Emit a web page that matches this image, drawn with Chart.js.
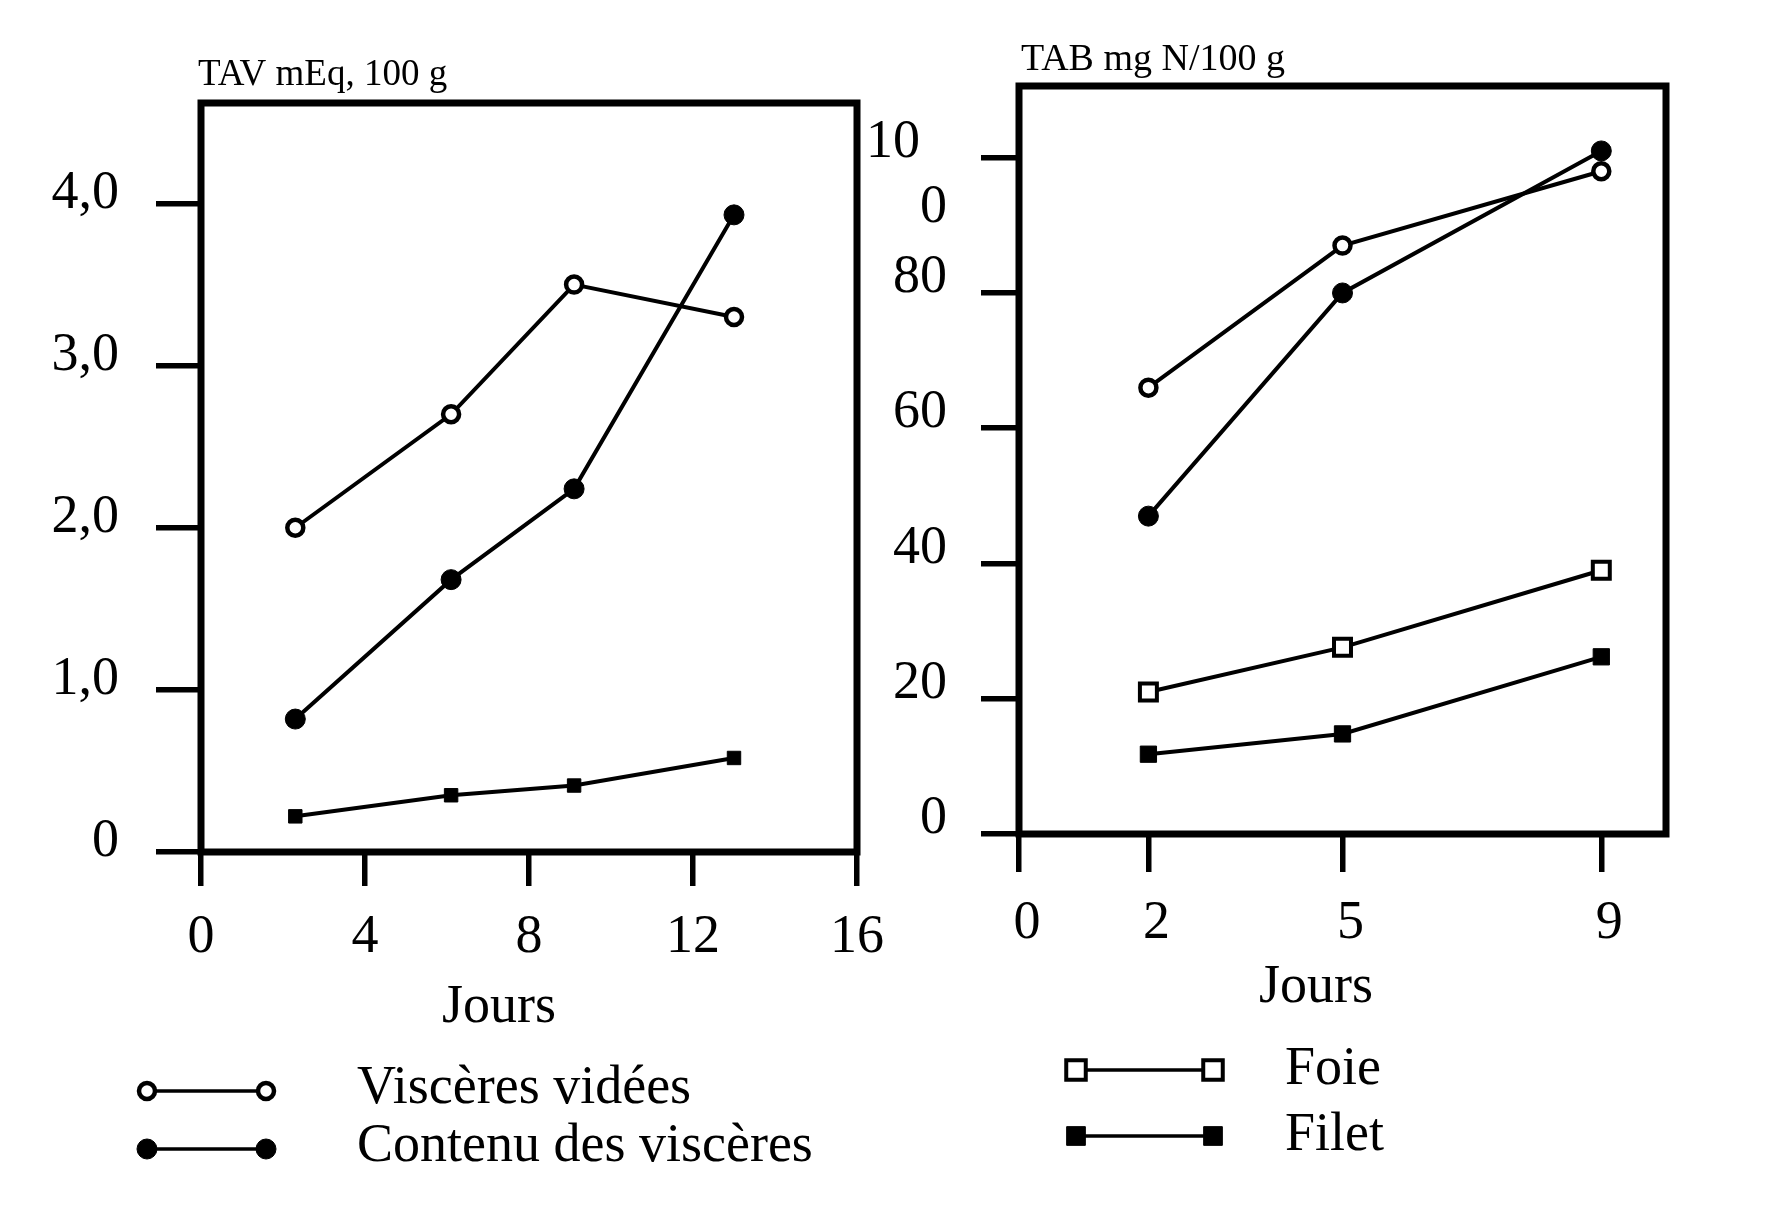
<!DOCTYPE html>
<html lang="fr">
<head>
<meta charset="utf-8">
<title>TAV et TAB en fonction des jours</title>
<script src="https://cdn.jsdelivr.net/npm/chart.js@4.4.1/dist/chart.umd.min.js"></script>
<style>
  html, body { margin: 0; padding: 0; background: #fff; }
  body { width: 1776px; height: 1210px; position: relative; overflow: hidden; }
  .panel { position: absolute; top: 0; height: 1210px; }
  #left { left: 0; width: 900px; }
  #right { left: 840px; width: 936px; }
</style>
</head>
<body>
<div class="panel" id="left"><canvas id="tavChart"></canvas></div>
<div class="panel" id="right"><canvas id="tabChart"></canvas></div>
<script>
// Left panel: TAV (mEq/100 g)
const tavDays = [2.3, 6.1, 9.1, 13];
const tavVisceresVidees = [2.0, 2.7, 3.5, 3.3];
const tavContenu = [0.82, 1.68, 2.24, 3.93];
const tavFilet = [0.22, 0.35, 0.41, 0.58];
const tavXTicks = [0, 4, 8, 12, 16];
const tavYTicks = [0, 1, 2, 3, 4];

// Right panel: TAB (mg N/100 g)
const tabDays = [2, 5, 9];
const tabVisceresVidees = [66, 87, 98];
const tabContenu = [47, 80, 101];
const tabFoie = [21, 27.6, 39];
const tabFilet = [11.8, 14.8, 26.2];
const tabXTicks = [0, 2, 5, 9];
const tabYTicks = [0, 20, 40, 60, 80, 100];

const SERIF = "'Liberation Serif', 'Times New Roman', serif";
Chart.defaults.font.family = SERIF;
Chart.defaults.color = '#000';

function toPoints(xs, ys) {
    return xs.map((x, i) => ({ x: x, y: ys[i] }));
}

// marker styles shared by both panels
function series(label, xs, ys, style, hideInLegend) {
    return Object.assign({
        label: label,
        data: toPoints(xs, ys),
        borderColor: '#000',
        borderWidth: 4,
        pointBorderColor: '#000',
        tension: 0,
        clip: false,
        hideInLegend: !!hideInLegend
    }, style);
}
const openCircle = { pointStyle: 'circle', pointRadius: 8, pointBorderWidth: 4.5, pointBackgroundColor: '#fff' };
const fullCircle = { pointStyle: 'circle', pointRadius: 10, pointBorderWidth: 1, pointBackgroundColor: '#000' };
const openSquare = { pointStyle: 'rect', pointRadius: 12, pointBorderWidth: 4, pointBackgroundColor: '#fff' };
const fullSquare = { pointStyle: 'rect', pointRadius: 11.5, pointBorderWidth: 1, pointBackgroundColor: '#000' };

// box around the plotting area
const framePlugin = {
    id: 'frame',
    beforeDatasetsDraw(chart) {
        const { ctx, chartArea: a } = chart;
        ctx.save();
        ctx.strokeStyle = '#000';
        ctx.lineWidth = 7;
        ctx.strokeRect(a.left, a.top, a.right - a.left, a.bottom - a.top);
        ctx.restore();
    }
};

// free text: unit above the axis, "Jours" under the ticks
const captionPlugin = {
    id: 'captions',
    afterDraw(chart, args, opts) {
        const ctx = chart.ctx;
        ctx.save();
        ctx.fillStyle = '#000';
        ctx.textBaseline = 'alphabetic';
        (opts.items || []).forEach(item => {
            ctx.font = item.size + 'px ' + SERIF;
            ctx.textAlign = item.align;
            ctx.fillText(item.text, item.x, item.y);
        });
        ctx.restore();
    }
};

// legend stacked in rows: line with a marker at each end, then the label
const rowLegendPlugin = {
    id: 'rowLegend',
    afterDraw(chart, args, opts) {
        const ctx = chart.ctx;
        const items = chart.data.datasets.filter(ds => !ds.hideInLegend);
        items.forEach((ds, i) => {
            const y = opts.rows[i];
            ctx.save();
            ctx.strokeStyle = ds.borderColor;
            ctx.lineWidth = 3.5;
            ctx.beginPath();
            ctx.moveTo(opts.x1, y);
            ctx.lineTo(opts.x2, y);
            ctx.stroke();
            const style = {
                pointStyle: ds.pointStyle,
                radius: ds.pointRadius * (opts.markerScale || 1),
                borderWidth: ds.pointBorderWidth,
                rotation: 0
            };
            ctx.fillStyle = ds.pointBackgroundColor;
            ctx.strokeStyle = ds.pointBorderColor;
            ctx.lineWidth = ds.pointBorderWidth;
            Chart.helpers.drawPoint(ctx, style, opts.x1, y);
            Chart.helpers.drawPoint(ctx, style, opts.x2, y);
            ctx.fillStyle = '#000';
            ctx.font = opts.size + 'px ' + SERIF;
            ctx.textAlign = 'left';
            ctx.textBaseline = 'alphabetic';
            ctx.fillText(ds.label, opts.textX, y + opts.baselineShift);
            ctx.restore();
        });
    }
};

function axis(min, max, tickValues, opts) {
    return {
        type: 'linear',
        min: min,
        max: max,
        afterBuildTicks: s => { s.ticks = tickValues.map(v => ({ value: v })); },
        afterFit: s => {
            opts.fit(s);
            // keep the plot box where it is, labels may overhang
            s.paddingTop = 0; s.paddingBottom = 0;
            s.paddingLeft = 0; s.paddingRight = 0;
        },
        border: { display: false },
        grid: {
            drawOnChartArea: false,
            drawTicks: true,
            tickLength: opts.tickLength,
            lineWidth: 5.5,
            color: '#000'
        },
        ticks: {
            autoSkip: false,
            maxRotation: 0,
            padding: opts.padding,
            labelOffset: opts.labelOffset || 0,
            color: '#000',
            font: { size: 54, family: SERIF },
            callback: opts.callback
        }
    };
}

function baseOptions(padding) {
    return {
        responsive: true,
        maintainAspectRatio: false,
        animation: false,
        layout: { padding: padding },
        plugins: { legend: { display: false }, tooltip: { enabled: false } }
    };
}

// left chart
const tavOptions = baseOptions({ top: 103, right: 43, bottom: 158, left: 0 });
tavOptions.scales = {
    x: axis(0, 16, tavXTicks, { tickLength: 34, padding: 19, fit: s => { s.height = 200; } }),
    y: axis(0, 4.62, tavYTicks, {
        tickLength: 45, padding: 37, labelOffset: -10,
        fit: s => { s.width = 201; },
        callback: v => v === 0 ? '0' : v.toFixed(1).replace('.', ',')
    })
};
tavOptions.plugins.captions = { items: [
    { text: 'TAV mEq, 100 g', x: 198, y: 85, size: 37, align: 'left' },
    { text: 'Jours', x: 499, y: 1022, size: 54, align: 'center' }
] };
tavOptions.plugins.rowLegend = { x1: 147, x2: 266, textX: 357, rows: [1091, 1149], baselineShift: 12, size: 54 };

new Chart(document.getElementById('tavChart'), {
    type: 'line',
    data: {
        datasets: [
            series('Viscères vidées', tavDays, tavVisceresVidees, openCircle),
            series('Contenu des viscères', tavDays, tavContenu, fullCircle),
            series('Filet', tavDays, tavFilet, Object.assign({}, fullSquare, { pointRadius: 9.5 }), true)
        ]
    },
    options: tavOptions,
    plugins: [framePlugin, captionPlugin, rowLegendPlugin]
});

// right chart
const tabOptions = baseOptions({ top: 86, right: 110, bottom: 176, left: 0 });
tabOptions.scales = {
    x: axis(0, 10, tabXTicks, { tickLength: 38, padding: 19, labelOffset: 8, fit: s => { s.height = 200; } }),
    y: axis(0, 110.6, tabYTicks, {
        tickLength: 38, padding: 34, labelOffset: -15,
        fit: s => { s.width = 179; },
        // the 100 label is printed broken over two lines in the source
        callback: v => v === 100 ? ['', '10  ', '0'] : String(v)
    })
};
tabOptions.plugins.captions = { items: [
    { text: 'TAB mg N/100 g', x: 181, y: 70, size: 38, align: 'left' },
    { text: 'Jours', x: 476, y: 1002, size: 54, align: 'center' }
] };
tabOptions.plugins.rowLegend = { x1: 236, x2: 373, textX: 445, rows: [1070, 1136], baselineShift: 14, size: 54, markerScale: 1.15 };

new Chart(document.getElementById('tabChart'), {
    type: 'line',
    data: {
        datasets: [
            series('Viscères vidées', tabDays, tabVisceresVidees, openCircle, true),
            series('Contenu des viscères', tabDays, tabContenu, fullCircle, true),
            series('Foie', tabDays, tabFoie, openSquare),
            series('Filet', tabDays, tabFilet, fullSquare)
        ]
    },
    options: tabOptions,
    plugins: [framePlugin, captionPlugin, rowLegendPlugin]
});
</script>
</body>
</html>
